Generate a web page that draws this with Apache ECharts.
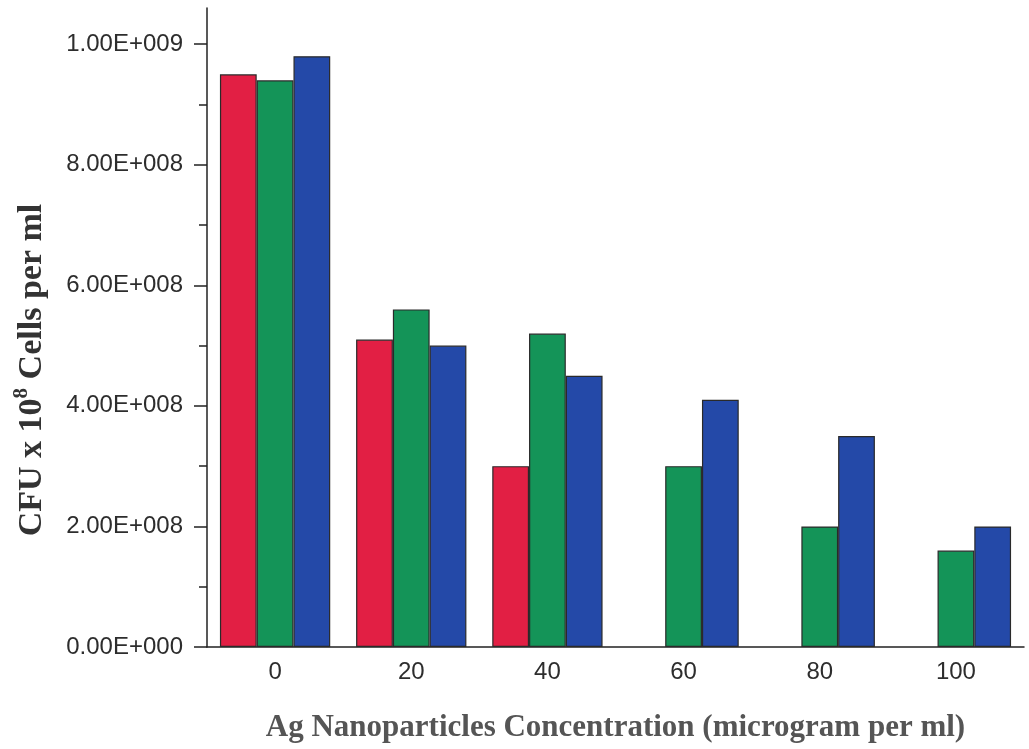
<!DOCTYPE html>
<html>
<head>
<meta charset="utf-8">
<script src="https://cdn.jsdelivr.net/npm/echarts@6/dist/echarts.min.js"></script>
<style>
  html, body { margin: 0; padding: 0; background: #fff; }
  #chart { width: 1029px; height: 749px; }
</style>
</head>
<body>
<div id="chart"></div>
<script>
// concentrations (microgram per ml)
const categories = ['0', '20', '40', '60', '80', '100']
// CFU per ml
const redValues = [9.5e8, 5.1e8, 3.0e8, null, null, null]
const greenValues = [9.4e8, 5.6e8, 5.2e8, 3.0e8, 2.0e8, 1.6e8]
const blueValues = [9.8e8, 5.0e8, 4.5e8, 4.1e8, 3.5e8, 2.0e8]
// y axis ticks
const majorTicks = [0, 2e8, 4e8, 6e8, 8e8, 1e9]
const minorTicks = [1e8, 3e8, 5e8, 7e8, 9e8]

const sansFont = '"Liberation Sans", Arial, sans-serif'
const serifFont = '"Liberation Serif", "Times New Roman", serif'

function sci(v) {
  // 2e8 -> 2.00E+008
  const parts = Number(v).toExponential(2).split('e')
  const exp = parseInt(parts[1], 10)
  const sign = exp < 0 ? '-' : '+'
  return parts[0] + 'E' + sign + String(Math.abs(exp)).padStart(3, '0')
}

function barSeries(name, data, color) {
  return {
    name: name,
    type: 'bar',
    xAxisIndex: 0,
    yAxisIndex: 0,
    data: data,
    barGap: '0%',
    barCategoryGap: '19%',
    itemStyle: {
      color: color,
      borderColor: '#2a2a2a',
      borderWidth: 1.2
    },
    animation: false
  }
}

const chart = echarts.init(document.getElementById('chart'))
chart.setOption({
  backgroundColor: '#ffffff',
  animation: false,
  grid: {
    left: 207,
    right: 5,
    top: 8,
    bottom: 102,
    containLabel: false
  },
  xAxis: [
    {
      type: 'category',
      data: categories,
      name: 'Ag Nanoparticles Concentration (microgram per ml)',
      nameLocation: 'middle',
      nameGap: 65,
      nameTextStyle: {
        fontFamily: serifFont,
        fontWeight: 'bold',
        fontSize: 31,
        color: '#555'
      },
      axisLine: { lineStyle: { color: '#222', width: 1.5 } },
      axisTick: {
        alignWithLabel: true,
        length: 13,
        lineStyle: { color: '#222', width: 1.5 }
      },
      axisLabel: {
        margin: 13,
        fontFamily: sansFont,
        fontSize: 24,
        color: '#2d2d2d'
      },
      splitLine: { show: false }
    },
    {
      // boundary ticks between the groups
      type: 'category',
      data: categories,
      position: 'bottom',
      axisLine: { show: false },
      axisTick: {
        alignWithLabel: false,
        length: 6,
        lineStyle: { color: '#222', width: 1.5 }
      },
      axisLabel: { show: false },
      splitLine: { show: false }
    }
  ],
  yAxis: [
    {
      type: 'value',
      min: 0,
      max: 1.06e9,
      axisLine: { show: true, lineStyle: { color: '#222', width: 1.5 } },
      axisTick: {
        show: true,
        length: 13,
        customValues: majorTicks,
        lineStyle: { color: '#222', width: 1.5 }
      },
      axisLabel: {
        margin: 24,
        customValues: majorTicks,
        formatter: sci,
        fontFamily: sansFont,
        fontSize: 24,
        color: '#2d2d2d'
      },
      splitLine: { show: false }
    },
    {
      // minor ticks
      type: 'value',
      min: 0,
      max: 1.06e9,
      position: 'left',
      axisLine: { show: false },
      axisTick: {
        show: true,
        length: 8,
        customValues: minorTicks,
        lineStyle: { color: '#222', width: 1.5 }
      },
      axisLabel: { show: false },
      splitLine: { show: false }
    }
  ],
  graphic: [
    {
      type: 'text',
      x: 30,
      y: 370,
      rotation: Math.PI / 2,
      style: {
        text: '{b|CFU x 10}{s|8}{b| Cells per ml}',
        align: 'center',
        verticalAlign: 'middle',
        fill: '#333',
        rich: {
          b: {
            fontFamily: serifFont,
            fontWeight: 'bold',
            fontSize: 34,
            lineHeight: 38,
            verticalAlign: 'bottom',
            fill: '#333'
          },
          s: {
            fontFamily: serifFont,
            fontWeight: 'bold',
            fontSize: 21,
            lineHeight: 38,
            verticalAlign: 'top',
            fill: '#333'
          }
        }
      }
    }
  ],
  series: [
    barSeries('red', redValues, '#e21f44'),
    barSeries('green', greenValues, '#149458'),
    barSeries('blue', blueValues, '#2449a8')
  ]
})
</script>
</body>
</html>
